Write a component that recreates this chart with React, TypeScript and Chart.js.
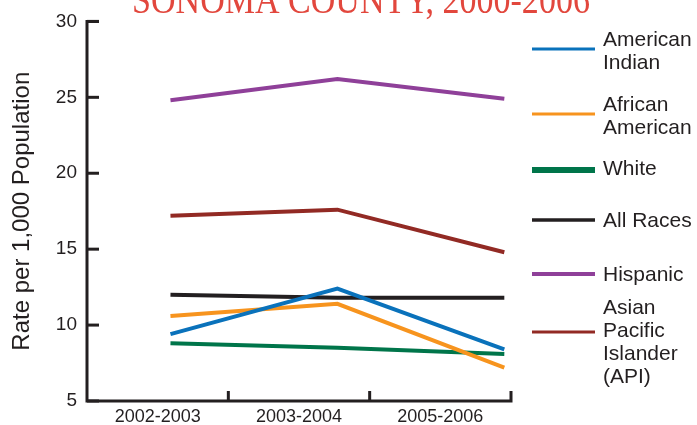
import React, { useEffect, useRef } from 'react';
import { Chart, registerables } from 'chart.js';

Chart.register(...registerables);

const chartTitle = 'SONOMA COUNTY, 2000-2006';
const categories = ['2002-2003', '2003-2004', '2005-2006'];
const categoryIndex = [0, 1, 2];
const yAxisTitle = 'Rate per 1,000 Population';
const yMin = 5;
const yMax = 30;
const yStep = 5;

const seriesLabels = [
  ['American', 'Indian'],
  ['African', 'American'],
  ['White'],
  ['All Races'],
  ['Hispanic'],
  ['Asian', 'Pacific', 'Islander', '(API)'],
];
const americanIndian = [9.4, 12.4, 8.4];
const africanAmerican = [10.6, 11.4, 7.2];
const white = [8.8, 8.5, 8.1];
const allRaces = [12.0, 11.8, 11.8];
const hispanic = [24.8, 26.2, 24.9];
const asianPacificIslander = [17.2, 17.6, 14.8];

const seriesValues = [americanIndian, africanAmerican, white, allRaces, hispanic, asianPacificIslander];
const seriesColors = ['#0a72bb', '#f7941e', '#00754a', '#231f20', '#8f4099', '#922a24'];

const INK = '#231f20';
const SANS = '"Liberation Sans", Arial, sans-serif';
const SERIF = '"Liberation Serif", "Times New Roman", serif';

// legend layout (px), not data
const legendLineY = [49, 114, 170, 220, 274, 332];
const legendLineW = [3, 3, 6, 3.5, 4, 3];
const legendTextBaseline = [46, 111, 175, 227, 281, 314];

const decoPlugin = {
  id: 'deco',
  afterDraw(chart: any) {
    const { ctx, chartArea, scales } = chart;
    const { left, right, top, bottom } = chartArea;
    const ys = scales.y;
    const xs = scales.x;
    ctx.save();
    // axes
    ctx.strokeStyle = INK;
    ctx.lineWidth = 3;
    ctx.lineJoin = 'miter';
    ctx.lineCap = 'butt';
    ctx.beginPath();
    ctx.moveTo(left + 12, top);
    ctx.lineTo(left, top);
    ctx.lineTo(left, bottom);
    ctx.lineTo(right, bottom);
    ctx.lineTo(right, bottom - 10);
    ctx.stroke();
    ys.ticks.forEach((_t: any, i: number) => {
      const py = ys.getPixelForTick(i);
      ctx.beginPath();
      ctx.moveTo(left, py);
      ctx.lineTo(left + 12, py);
      ctx.stroke();
    });
    for (let i = 1; i < categories.length; i++) {
      const px = xs.getPixelForValue(i - 0.5);
      ctx.beginPath();
      ctx.moveTo(px, bottom);
      ctx.lineTo(px, bottom - 10);
      ctx.stroke();
    }
    // title (cut off at the top like the reference)
    ctx.save();
    ctx.fillStyle = '#e2473d';
    ctx.font = '41px ' + SERIF;
    ctx.textAlign = 'center';
    ctx.textBaseline = 'alphabetic';
    ctx.translate(361, 13);
    ctx.scale(0.83, 1);
    ctx.fillText(chartTitle, 0, 0);
    ctx.restore();
    // legend
    ctx.font = '21px ' + SANS;
    ctx.textAlign = 'left';
    ctx.textBaseline = 'alphabetic';
    seriesLabels.forEach((lines, i) => {
      ctx.strokeStyle = seriesColors[i];
      ctx.lineWidth = legendLineW[i];
      ctx.beginPath();
      ctx.moveTo(right + 21, legendLineY[i]);
      ctx.lineTo(right + 84, legendLineY[i]);
      ctx.stroke();
      ctx.fillStyle = INK;
      lines.forEach((ln, j) => {
        ctx.fillText(ln, right + 92, legendTextBaseline[i] + j * 23);
      });
    });
    ctx.restore();
  },
};

export default function App() {
  const ref = useRef<HTMLCanvasElement>(null);
  useEffect(() => {
    const canvas = ref.current;
    if (!canvas) return;
    const chart = new Chart(canvas, {
      type: 'line',
      data: {
        labels: categories,
        datasets: seriesValues.map((vals, i) => ({
          label: seriesLabels[i].join(' '),
          data: vals.map((v, k) => ({ x: categoryIndex[k], y: v })),
          xAxisID: 'xd',
          borderColor: seriesColors[i],
          backgroundColor: seriesColors[i],
          borderWidth: 4,
          pointRadius: 0,
          pointHoverRadius: 0,
          tension: 0,
          fill: false,
        })),
      },
      options: {
        responsive: false,
        animation: false,
        events: [],
        layout: { padding: { top: 20, right: 186, bottom: 0, left: 0 } },
        plugins: {
          legend: { display: false },
          title: { display: false },
          tooltip: { enabled: false },
        },
        scales: {
          xd: {
            type: 'linear',
            display: false,
            min: -0.5,
            max: 2.04,
          },
          x: {
            type: 'category',
            position: 'bottom',
            offset: true,
            grid: { display: false, drawTicks: false },
            border: { display: false },
            ticks: {
              color: INK,
              font: { family: SANS, size: 18 },
              padding: 5,
              maxRotation: 0,
              autoSkip: false,
            },
            afterFit: (s: any) => { s.height = 24; },
          },
          y: {
            type: 'linear',
            min: yMin,
            max: yMax,
            grid: { display: false, drawTicks: false },
            border: { display: false },
            ticks: {
              stepSize: yStep,
              color: INK,
              font: { family: SANS, size: 19 },
              padding: 10,
            },
            title: {
              display: true,
              text: yAxisTitle,
              color: INK,
              font: { family: SANS, size: 24 },
              padding: { top: 8, bottom: 0 },
            },
            afterFit: (s: any) => { s.width = 87; },
          },
        },
      },
      plugins: [decoPlugin],
    });
    return () => chart.destroy();
  }, []);
  return (
    <div style={{ position: 'fixed', left: 0, top: 0, width: 697, height: 425, background: '#fff' }}>
      <canvas ref={ref} width={697} height={425} style={{ display: 'block' }} />
    </div>
  );
}
